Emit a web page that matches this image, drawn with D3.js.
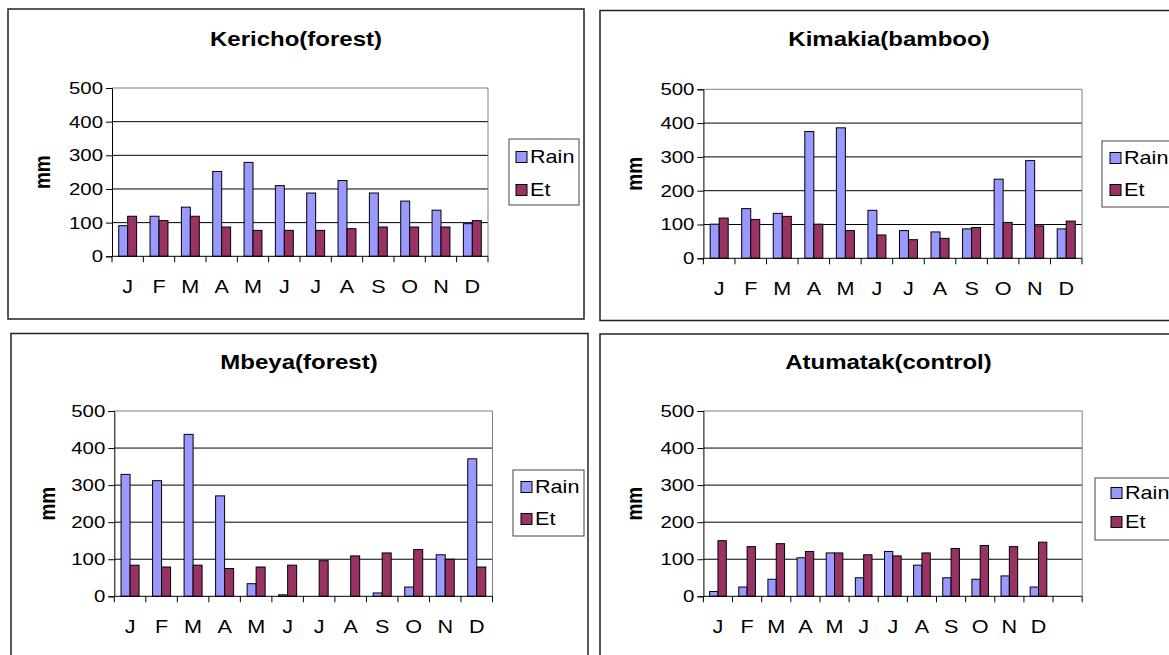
<!DOCTYPE html>
<html>
<head>
<meta charset="utf-8">
<script src="https://cdn.jsdelivr.net/npm/d3@7"></script>
<style>
  html, body { margin: 0; padding: 0; background: #fff; }
  svg { display: block; }
</style>
</head>
<body>
<svg id="chart" width="1169" height="655"></svg>
<script>
// ---------------- data ----------------
const months = ["J", "F", "M", "A", "M", "J", "J", "A", "S", "O", "N", "D"];
const seriesNames = ["Rain", "Et"];
const yTicks = [0, 100, 200, 300, 400, 500];

const kerichoRain = [91, 119, 146, 252, 279, 210, 188, 225, 188, 164, 137, 97];
const kerichoEt   = [119, 106, 119, 87, 77, 77, 77, 82, 87, 87, 87, 106];

const kimakiaRain = [101, 147, 133, 375, 386, 142, 82, 78, 87, 234, 289, 87];
const kimakiaEt   = [119, 115, 124, 101, 82, 69, 55, 59, 91, 106, 96, 110];

const mbeyaRain = [329, 312, 437, 271, 34, 4, 0, 0, 9, 25, 112, 371];
const mbeyaEt   = [84, 79, 84, 75, 79, 84, 96, 109, 117, 126, 100, 79];

const atumatakRain = [13, 25, 46, 104, 117, 50, 121, 84, 50, 46, 55, 25];
const atumatakEt   = [150, 134, 142, 121, 117, 112, 109, 117, 129, 137, 134, 146];
const atumatakCats = months.concat([""]);

// ---------------- style / layout ----------------
const SX = 1.2; // horizontal stretch of the original picture's text
const FONT = "'Liberation Sans', Arial, Helvetica, sans-serif";
const colors = { Rain: "#9999FF", Et: "#993366" };

const panels = [
  { title: "Kericho(forest)", cats: months, values: [kerichoRain, kerichoEt],
    box: [8, 9, 576, 310], tx: 296, ty: 38.5, plot: [112, 88, 488, 256.3], mmx: 42,
    legend: [509, 139, 70, 66], sw: 516, ly: [157, 190] },
  { title: "Kimakia(bamboo)", cats: months, values: [kimakiaRain, kimakiaEt],
    box: [600, 10.5, 590, 310], tx: 889, ty: 38.5, plot: [703.4, 89.3, 1082, 258.3], mmx: 634,
    legend: [1102, 141, 90, 66], sw: 1110, ly: [158, 190] },
  { title: "Mbeya(forest)", cats: months, values: [mbeyaRain, mbeyaEt],
    box: [11, 333.5, 577, 340], tx: 299, ty: 362, plot: [114.3, 411, 492.5, 596.3], mmx: 47,
    legend: [513, 470, 71, 66], sw: 521, ly: [487, 519] },
  { title: "Atumatak(control)", cats: atumatakCats, values: [atumatakRain, atumatakEt],
    box: [600, 334, 590, 340], tx: 888.5, ty: 362, plot: [703.4, 411, 1082.2, 596.3], mmx: 634,
    legend: [1095, 478, 95, 62], sw: 1111, ly: [493, 522] }
];

const svg = d3.select("#chart");

function stretchedText(g, x, y, txt, opts) {
  const t = g.append("text")
    .attr("transform", `translate(${x},${y}) scale(${SX},1)` + (opts.rotate ? ` rotate(${opts.rotate})` : ""))
    .attr("font-family", FONT)
    .attr("font-size", opts.size || 18)
    .attr("font-weight", opts.bold ? "bold" : "normal")
    .attr("text-anchor", opts.anchor || "start")
    .attr("dy", opts.dy || "0.35em")
    .attr("fill", "#000")
    .text(txt);
  return t;
}

panels.forEach(p => {
  const g = svg.append("g");
  const [bx, by, bw, bh] = p.box;
  g.append("rect").attr("x", bx).attr("y", by).attr("width", bw).attr("height", bh)
    .attr("fill", "#fff").attr("stroke", "#222").attr("stroke-width", 1.5);

  const [x0, y0, x1, y1] = p.plot;
  const x = d3.scaleBand().domain(d3.range(p.cats.length)).range([x0, x1]).padding(0);
  const y = d3.scaleLinear().domain([0, 500]).range([y1, y0]);
  const groupW = x.bandwidth() / 1.75;
  const xs = d3.scaleBand().domain(seriesNames).range([0, groupW]).padding(0);
  const off = (x.bandwidth() - groupW) / 2;

  // gridlines
  g.append("g").selectAll("line").data(yTicks.filter(d => d > 0)).join("line")
    .attr("x1", x0).attr("x2", x1).attr("y1", d => y(d)).attr("y2", d => y(d))
    .attr("stroke", d => d === 500 ? "#808080" : "#000").attr("stroke-width", 1);
  // right border of plot area
  g.append("line").attr("x1", x1).attr("x2", x1).attr("y1", y0).attr("y2", y1)
    .attr("stroke", "#808080").attr("stroke-width", 1);

  // bars
  seriesNames.forEach((s, si) => {
    g.append("g").selectAll("rect").data(p.values[si]).join("rect")
      .attr("x", (d, i) => x(i) + off + xs(s))
      .attr("y", d => y(d))
      .attr("width", xs.bandwidth())
      .attr("height", d => y(0) - y(d))
      .attr("fill", colors[s])
      .attr("stroke", "#000")
      .attr("stroke-width", d => d > 0 ? 1 : 0);
  });

  // y axis
  const ya = g.append("g").attr("transform", `translate(${x0},0)`)
    .call(d3.axisLeft(y).tickValues(yTicks).tickSize(6).tickPadding(3));
  ya.select(".domain").attr("stroke", "#000");
  ya.selectAll(".tick line").attr("stroke", "#000");
  ya.selectAll(".tick text").each(function () {
    const t = d3.select(this);
    const xx = +t.attr("x");
    t.attr("x", xx / SX).attr("transform", `scale(${SX},1)`)
      .attr("font-family", FONT).attr("font-size", 17).attr("fill", "#000");
  });

  // x axis baseline + category boundary ticks
  g.append("line").attr("x1", x0).attr("x2", x1).attr("y1", y1).attr("y2", y1)
    .attr("stroke", "#000").attr("stroke-width", 1);
  const bounds = d3.range(p.cats.length).map(i => x(i)).concat([x1]);
  g.append("g").selectAll("line").data(bounds).join("line")
    .attr("x1", d => d).attr("x2", d => d).attr("y1", y1).attr("y2", y1 + 6)
    .attr("stroke", "#000");
  const xa = g.append("g").attr("transform", `translate(0,${y1})`)
    .call(d3.axisBottom(x).tickSize(0).tickPadding(23.5).tickFormat(i => p.cats[i]));
  xa.select(".domain").remove();
  xa.selectAll(".tick text").attr("transform", `scale(${SX},1)`)
    .attr("font-family", FONT).attr("font-size", 18).attr("fill", "#000");

  // title
  stretchedText(g, p.tx, p.ty, p.title, { size: 20, bold: true, anchor: "middle" });
  // y label
  stretchedText(g, p.mmx, (y0 + y1) / 2, "mm", { size: 19, bold: true, anchor: "middle", rotate: -90 });

  // legend
  const [lx, ly, lw, lh] = p.legend;
  g.append("rect").attr("x", lx).attr("y", ly).attr("width", lw).attr("height", lh)
    .attr("fill", "#fff").attr("stroke", "#444").attr("stroke-width", 1);
  seriesNames.forEach((s, si) => {
    const cy = p.ly[si];
    g.append("rect").attr("x", p.sw).attr("y", cy - 5.5).attr("width", 11).attr("height", 11)
      .attr("fill", colors[s]).attr("stroke", "#000").attr("stroke-width", 1);
    stretchedText(g, p.sw + 14, cy, s, { size: 18 });
  });
});
</script>
</body>
</html>
